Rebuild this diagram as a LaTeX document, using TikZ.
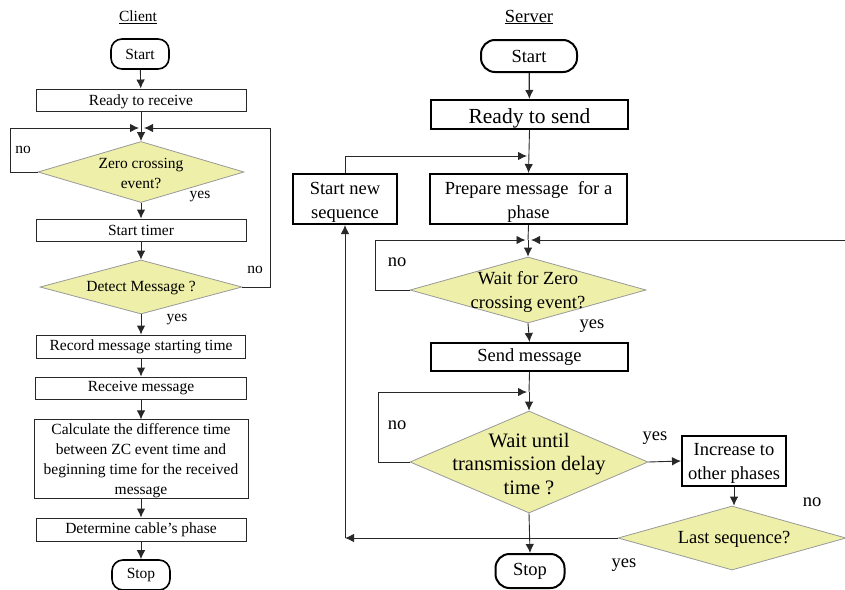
\documentclass[tikz,border=0pt]{standalone}
\usepackage{fontspec}
\setmainfont{Liberation Serif}
\usetikzlibrary{shapes.geometric,arrows.meta,calc}
\definecolor{dfill}{RGB}{238,239,168}
\definecolor{lnc}{RGB}{40,40,40}
\newcommand{\fstrut}[1]{\rule{0pt}{#1}}
\begin{document}
\begin{tikzpicture}[x=1pt,y=-1pt,
  cfont/.style={font=\fontsize{15.5}{20}\selectfont},
  sfont/.style={font=\fontsize{18.5}{24}\selectfont},
  cbox/.style={draw=lnc, line width=0.9pt, rectangle, inner sep=0pt, cfont, align=center},
  sbox/.style={draw=black, line width=2pt, rectangle, inner sep=0pt, sfont, align=center},
  cterm/.style={draw=black, line width=1.6pt, rectangle, rounded corners=11pt, inner sep=0pt, cfont},
  sterm/.style={draw=black, line width=2pt, rectangle, rounded corners=14pt, inner sep=0pt, sfont},
  diam/.style={draw=gray!80, line width=0.8pt, fill=dfill, diamond, inner sep=0pt},
  dtext/.style={align=center, inner sep=0pt},
  lbl/.style={inner sep=0pt},
  arr/.style={draw=lnc, line width=0.9pt, -{Latex[length=9pt,width=8.5pt]}},
  ln/.style={draw=lnc, line width=0.9pt}
]
\useasboundingbox (0,0) rectangle (845,589);

% ---------------- Client ----------------
\node[cfont] (ctitle) at (138,17) {\underline{Client}};
\node[cterm, minimum width=58pt, minimum height=30pt] (cstart) at (140,54) {Start};
\node[cbox, minimum width=210pt, minimum height=22pt, text height=14pt, text depth=2.4pt] (cready) at (141,100) {Ready to receive};
\coordinate (cm) at (141,128);
\node[diam, minimum width=206pt, minimum height=61pt] (cz) at (141,172) {};
\node[dtext, cfont] at (141,173) {Zero crossing\\event?};
\node[cbox, minimum width=210pt, minimum height=22pt] (ctimer) at (141,230) {Start timer};
\node[diam, minimum width=202pt, minimum height=54pt] (cdetect) at (141,287) {};
\node[dtext, cfont] at (141,288) {Detect Message ?};
\node[cbox, minimum width=209pt, minimum height=23pt] (crecord) at (141,346.5) {Record message starting time};
\node[cbox, minimum width=211pt, minimum height=22pt] (creceive) at (141,388) {Receive message};
\node[cbox, minimum width=214pt, minimum height=78pt] (ccalc) at (141,459) {\fstrut{15pt}Calculate the difference time\\between ZC event time and\\beginning time for the received\\message};
\node[cbox, minimum width=210pt, minimum height=23pt] (cdet) at (141,529.5) {Determine cable's phase};
\node[cterm, minimum width=58pt, minimum height=30pt] (cstop) at (141,575) {Stop};

\coordinate (cnoL) at (10,172);
\coordinate (cnoLt) at (10,128);
\coordinate (cinL) at (139,128);
\coordinate (cnoR) at (270,287);
\coordinate (cnoRt) at (270,128);
\coordinate (cinR) at (144,128);

\draw[arr] (cstart) -- (cready);
\draw[ln] (cready.south) -- (cm);
\draw[arr] (cm) -- (cz.north);
\draw[arr] (cz.west) -- (cnoL) -- (cnoLt) -- (cinL);
\draw[arr] (cz.south) -- (ctimer.north);
\draw[arr] (ctimer.south) -- (cdetect.north);
\draw[arr] (cdetect.east) -- (cnoR) -- (cnoRt) -- (cinR);
\draw[arr] (cdetect.south) -- (crecord.north);
\draw[arr] (crecord.south) -- (creceive.north);
\draw[arr] (creceive.south) -- (ccalc.north);
\draw[arr] (ccalc.south) -- (cdet.north);
\draw[arr] (cdet.south) -- (cstop.north);

\node[lbl, cfont] at (23,150) {no};
\node[lbl, cfont] at (200,197) {yes};
\node[lbl, cfont] at (255,270) {no};
\node[lbl, cfont] at (177,320) {yes};

% ---------------- Server ----------------
\node[sfont] (stitle) at (529,17) {\underline{Server}};
\node[sterm, minimum width=96pt, minimum height=32pt] (sstart) at (529,56) {Start};
\node[sbox, minimum width=197pt, minimum height=29pt, font=\fontsize{21.5}{24}\selectfont, text height=21pt, text depth=3pt] (sready) at (529.5,114.5) {Ready to send};
\node[sbox, minimum width=104pt, minimum height=50pt] (snew) at (345,199) {\fstrut{19pt}Start new\\sequence};
\node[sbox, minimum width=197pt, minimum height=50pt] (sprep) at (528.5,199) {\fstrut{19pt}Prepare message~~for a\\phase};
\coordinate (sm1) at (529,156);
\coordinate (snewtop) at (345,156);
\coordinate (sm1in) at (527,156);

\coordinate (sm2) at (528,240);
\node[diam, minimum width=236pt, minimum height=66pt] (swz) at (528,290) {};
\node[dtext, sfont] at (528,292) {Wait for Zero\\crossing event?};
\node[sbox, minimum width=197pt, minimum height=28pt] (ssend) at (529.5,357) {Send message};
\coordinate (sm3) at (529,392);
\node[diam, minimum width=238pt, minimum height=102pt] (swu) at (529,462) {};
\node[dtext, font=\fontsize{20.5}{23.5}\selectfont] at (529,464) {Wait until\\transmission delay\\time ?};
\node[sbox, minimum width=104pt, minimum height=50pt] (sinc) at (734,461) {\fstrut{17pt}Increase to\\other phases};
\node[diam, minimum width=228pt, minimum height=64pt] (slast) at (732,538) {};
\node[dtext, sfont] at (734,539.5) {Last sequence?};
\node[sterm, minimum width=69pt, minimum height=34pt] (sstop) at (530,571) {Stop};

\coordinate (swzL) at (375,290);
\coordinate (swzLt) at (375,240);
\coordinate (swzin) at (525.5,240);
\coordinate (slastR) at (850,538);
\coordinate (slastRt) at (850,240);
\coordinate (srin) at (531,240);
\coordinate (swuL) at (378,462);
\coordinate (swuLt) at (378,392);
\coordinate (swuin) at (527,392);
\coordinate (scorner) at (345,538);

\draw[arr, line width=1.3pt] (sstart) -- (sready);
\draw[arr] (sready.south) -- (sprep.north);
\draw[arr] (snew.north) -- (snewtop) -- (sm1in);
\draw[ln] (sprep.south) -- (sm2);
\draw[arr] (sm2) -- (swz.north);
\draw[arr] (swz.west) -- (swzL) -- (swzLt) -- (swzin);
\draw[arr] (slast.east) -- (slastR) -- (slastRt) -- (srin);
\draw[arr] (swz.south) -- (ssend.north);
\draw[ln] (ssend.south) -- (sm3);
\draw[arr] (sm3) -- (swu.north);
\draw[arr] (swu.west) -- (swuL) -- (swuLt) -- (swuin);
\draw[arr] (swu.east) -- (sinc.west);
\draw[arr] (sinc.south) -- (sinc.south |- slast.north);
\draw[arr] (slast.west) -- (scorner);
\draw[arr] (scorner) -- (snew.south);
\draw[arr] (swu.south) -- (sstop.north);

\node[lbl, sfont] at (397,262) {no};
\node[lbl, sfont] at (592,326) {yes};
\node[lbl, sfont] at (397,425) {no};
\node[lbl, sfont] at (655,438) {yes};
\node[lbl, sfont] at (812,502) {no};
\node[lbl, sfont] at (624,565) {yes};
\end{tikzpicture}
\end{document}
